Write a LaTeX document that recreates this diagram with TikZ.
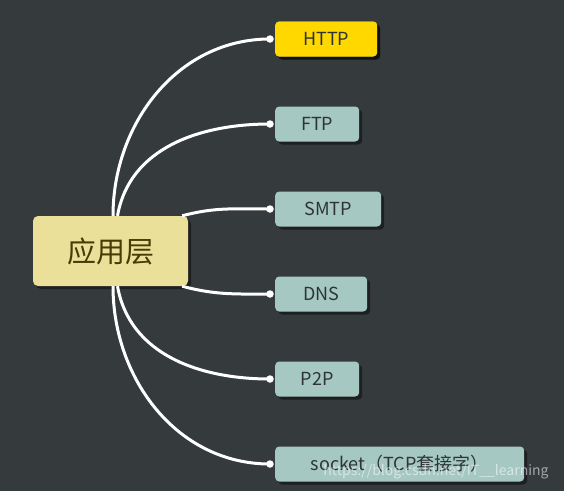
\documentclass[tikz,border=0pt]{standalone}
\usepackage{fontspec}
\setmainfont{Noto Sans CJK SC}
\usepackage{xcolor}
\usepackage{tikz}
\usetikzlibrary{shadows}

\definecolor{bgdark}{HTML}{353A3D}
\definecolor{coreyellow}{HTML}{EAE09A}
\definecolor{coretext}{HTML}{4A3A05}
\definecolor{leafgreen}{HTML}{A6C8C2}
\definecolor{leafgold}{HTML}{FFD800}
\definecolor{leaftext}{HTML}{2E3436}

\tikzset{
  core/.style={draw=none, fill=coreyellow, rounded corners=5pt,
    minimum width=155pt, minimum height=70pt, text=coretext,
    font=\fontsize{29pt}{34pt}\selectfont,
    drop shadow={shadow xshift=3pt, shadow yshift=-3pt, fill=black, opacity=0.45}},
  leaf/.style={draw=none, fill=leafgreen, rounded corners=4pt, anchor=west,
    minimum height=35pt, text=leaftext, inner sep=0pt,
    font=\fontsize{18pt}{21pt}\selectfont,
    drop shadow={shadow xshift=3pt, shadow yshift=-3pt, fill=black, opacity=0.45}},
  link/.style={draw=white, line width=3pt},
  tip/.style={circle, fill=white, inner sep=0pt, minimum size=7.5pt}
}

\begin{document}
\begin{tikzpicture}[x=1pt,y=-1pt]
  % Background
  \fill[bgdark] (0,0) rectangle (564,491);
  \useasboundingbox (0,0) rectangle (564,491);

  % Central node
  \node[core] (app) at (110.5,251) {应用层};

  % Protocol nodes
  \foreach \name/\txt/\y/\w in {http/HTTP/39/102, ftp/FTP/124/84, smtp/SMTP/209/106,
      dns/DNS/294/92, ptp/P2P/379/84, sock/{socket（TCP套接字）}/464/249} {
    \node[leaf, minimum width=\w pt] (\name) at (275,\y) {\txt};
    \coordinate (\name-in) at ([xshift=-5pt]\name.west);
  }
  \node[leaf, fill=leafgold, minimum width=102pt] at (http.west) {HTTP};

  % Links
  \draw[link] ([xshift=2.5pt]app.north) to[out=90,in=180] (http-in);
  \draw[link] ([xshift=7pt]app.north) to[out=80,in=180] (ftp-in);
  \draw[link] ([xshift=-6pt]app.north east) to[out=15,in=180] (smtp-in);
  \draw[link] ([xshift=-6pt]app.south east) to[out=-15,in=180] (dns-in);
  \draw[link] ([xshift=7pt]app.south) to[out=-80,in=180] (ptp-in);
  \draw[link] ([xshift=2.5pt]app.south) to[out=-90,in=180] (sock-in);
  \foreach \name in {http,ftp,smtp,dns,ptp,sock}
    \node[tip] at (\name-in) {};

  % Watermark
  \node[text=white, opacity=0.55, font=\fontsize{14pt}{16pt}\selectfont] (mark) at (436,472) {https://blog.csdn.net/IT\_\_learning};
\end{tikzpicture}
\end{document}
